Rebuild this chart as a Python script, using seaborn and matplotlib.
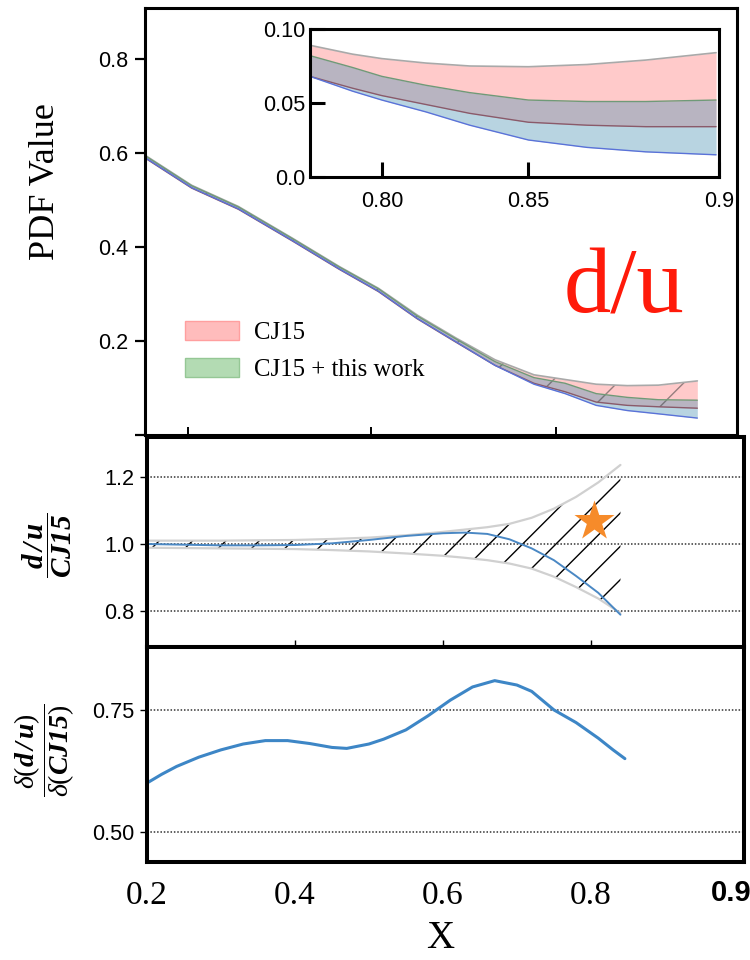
import matplotlib
matplotlib.use("Agg")
import matplotlib.pyplot as plt
import seaborn as sns
from matplotlib.patches import Patch

# ---------------- data ----------------
# top panel: d/u PDF uncertainty bands
x_top = [0.20, 0.26, 0.32, 0.39, 0.45, 0.50, 0.55, 0.60, 0.65, 0.70, 0.74, 0.78, 0.82, 0.86, 0.91]
cj15_hi = [0.595, 0.531, 0.486, 0.418, 0.358, 0.312, 0.255, 0.206, 0.160, 0.128, 0.118, 0.108, 0.105, 0.106, 0.115]
cj15_lo = [0.589, 0.525, 0.480, 0.412, 0.352, 0.305, 0.247, 0.197, 0.148, 0.110, 0.092, 0.070, 0.063, 0.060, 0.057]
work_hi = [0.594, 0.530, 0.485, 0.417, 0.357, 0.311, 0.253, 0.204, 0.156, 0.122, 0.110, 0.088, 0.080, 0.075, 0.074]
work_lo = [0.590, 0.526, 0.481, 0.413, 0.353, 0.306, 0.248, 0.198, 0.148, 0.108, 0.088, 0.063, 0.052, 0.045, 0.036]
top_xticks = [0.255, 0.491, 0.728]
top_yticks = [0.0, 0.2, 0.4, 0.6, 0.8]
top_yticklabels = ["", "0.2", "0.4", "0.6", "0.8"]
legend_labels = ["CJ15", "CJ15 + this work"]

# inset (zoom on large x)
x_in = [0.7755, 0.79, 0.80, 0.815, 0.83, 0.85, 0.87, 0.89, 0.914]
cj15_hi_in = [0.089, 0.083, 0.080, 0.077, 0.075, 0.0745, 0.076, 0.079, 0.084]
cj15_lo_in = [0.068, 0.060, 0.055, 0.049, 0.043, 0.037, 0.035, 0.034, 0.034]
work_hi_in = [0.082, 0.074, 0.068, 0.062, 0.057, 0.052, 0.051, 0.051, 0.052]
work_lo_in = [0.068, 0.058, 0.052, 0.044, 0.035, 0.025, 0.020, 0.017, 0.015]
in_xticks = [0.80, 0.85, 0.915]
in_xticklabels = ["0.80", "0.85", "0.9"]
in_yticks = [0.0, 0.05, 0.10]
in_yticklabels = ["0.0", "0.05", "0.10"]

# middle panel: ratio to CJ15
x_mid = [0.20, 0.25, 0.30, 0.35, 0.40, 0.45, 0.50, 0.55, 0.60, 0.63, 0.66, 0.69, 0.72, 0.75, 0.78, 0.81, 0.84]
ratio = [1.000, 0.998, 0.996, 0.996, 0.997, 1.002, 1.012, 1.024, 1.032, 1.034, 1.030, 1.014, 0.987, 0.952, 0.905, 0.855, 0.790]
band_hi = [1.010, 1.010, 1.010, 1.011, 1.012, 1.015, 1.019, 1.026, 1.036, 1.043, 1.050, 1.060, 1.078, 1.105, 1.140, 1.183, 1.235]
band_lo = [0.989, 0.988, 0.987, 0.986, 0.985, 0.982, 0.978, 0.972, 0.965, 0.959, 0.952, 0.942, 0.927, 0.903, 0.872, 0.838, 0.795]
star_x = [0.804]
star_y = [1.067]
mid_grid = [0.8, 1.0, 1.2]
mid_yticklabels = ["0.8", "1.0", "1.2"]
mid_xticks = [0.4, 0.6, 0.8]

# bottom panel: ratio of uncertainties
x_bot = [0.20, 0.22, 0.24, 0.27, 0.30, 0.33, 0.36, 0.39, 0.42, 0.45, 0.47, 0.50, 0.52,
         0.55, 0.58, 0.61, 0.64, 0.67, 0.70, 0.72, 0.75, 0.78, 0.81, 0.83, 0.846]
err_ratio = [0.600, 0.618, 0.634, 0.653, 0.668, 0.680, 0.687, 0.687, 0.681, 0.673, 0.671, 0.680, 0.690,
             0.709, 0.738, 0.770, 0.797, 0.810, 0.801, 0.788, 0.750, 0.724, 0.692, 0.668, 0.650]
bot_grid = [0.50, 0.75]
bot_yticklabels = ["0.50", "0.75"]
bot_xticks = [0.2, 0.4, 0.6, 0.8]
bot_xticklabels = ["0.2", "0.4", "0.6", "0.8"]

# ---------------- style ----------------
sns.set_style("ticks")
plt.rcParams["font.family"] = ["Liberation Sans", "DejaVu Sans"]
plt.rcParams["mathtext.fontset"] = "custom"
plt.rcParams["mathtext.rm"] = "Liberation Serif"
plt.rcParams["mathtext.it"] = "Liberation Serif:italic"
plt.rcParams["mathtext.bf"] = "Liberation Serif:bold:italic"
plt.rcParams["hatch.linewidth"] = 0.5
for k in ["text.color", "axes.labelcolor", "xtick.color", "ytick.color", "axes.edgecolor"]:
    plt.rcParams[k] = "black"

SERIF = ["Liberation Serif", "DejaVu Serif"]
RED = "#ff8a8a"
TEAL = "#4f95b5"

W, H = 750, 960
fig = plt.figure(figsize=(3.75, 4.8), dpi=200)


def box(l, t, r, b):
    return [l / W, 1 - b / H, (r - l) / W, (b - t) / H]


ax_top = fig.add_axes(box(145, 8, 737, 435))
ax_mid = fig.add_axes(box(147, 437, 744, 647))
ax_bot = fig.add_axes(box(147, 647, 744, 862))
ax_in = fig.add_axes(box(310, 29, 719, 177))


def draw_bands(ax, x, c_lo, c_hi, w_lo, w_hi, hatch=True):
    ax.fill_between(x, c_lo, c_hi, facecolor=RED, alpha=0.45, lw=0)
    ax.fill_between(x, w_lo, w_hi, facecolor=TEAL, alpha=0.40, lw=0)
    if hatch:
        ax.fill_between(x, c_lo, c_hi, facecolor="none",
                        edgecolor=(0.25, 0.25, 0.25, 0.55), hatch="/", lw=0)
    sns.lineplot(x=x, y=c_hi, ax=ax, color="#a9a9a9", lw=0.6)
    sns.lineplot(x=x, y=c_lo, ax=ax, color="#8a5a6a", lw=0.5)
    sns.lineplot(x=x, y=w_hi, ax=ax, color="#6f9a78", lw=0.5)
    sns.lineplot(x=x, y=w_lo, ax=ax, color="#5a72d8", lw=0.5)


# ---- top panel ----
ax = ax_top
draw_bands(ax, x_top, cj15_lo, cj15_hi, work_lo, work_hi)
ax.set_xlim(0.2, 0.961)
ax.set_ylim(0, 0.908)
ax.set_yticks(top_yticks)
ax.set_yticklabels(top_yticklabels)
ax.set_xticks(top_xticks)
ax.set_xticklabels([])
ax.tick_params(axis="y", left=True, direction="out", length=3.6, width=0.8, pad=2.5, labelsize=7.8)
ax.tick_params(axis="x", bottom=True, direction="in", length=3, width=0.7)
for s in ax.spines.values():
    s.set_linewidth(1.1)
    s.set_visible(True)
ax.set_xlabel("")
ax.set_ylabel("")
ax.text(0.809, 0.286, "d/u", transform=ax.transAxes, ha="center", va="baseline",
        fontsize=34, family=SERIF, color="#ff1a0a")
handles = [Patch(facecolor="#ffbcbc", edgecolor="#ff9f9f", lw=0.5),
           Patch(facecolor="#b3dbb3", edgecolor="#95c795", lw=0.5)]
ax.legend(handles, legend_labels, loc="upper left", bbox_to_anchor=(0.0676, 0.267),
          frameon=False, borderpad=0, borderaxespad=0, handlelength=2.2, handleheight=0.8,
          handletextpad=0.6, labelspacing=0.55, prop={"family": SERIF, "size": 8.9})

# ---- inset ----
ax = ax_in
ax.set_facecolor("white")
draw_bands(ax, x_in, cj15_lo_in, cj15_hi_in, work_lo_in, work_hi_in, hatch=False)
ax.set_xlim(0.7755, 0.915)
ax.set_ylim(0, 0.097)
ax.set_xticks(in_xticks)
ax.set_xticklabels(in_xticklabels)
ax.set_yticks(in_yticks)
ax.set_yticklabels(in_yticklabels)
ax.tick_params(axis="y", left=True, direction="in", length=5.4, width=1.1, pad=1.8, labelsize=7.8)
ax.tick_params(axis="x", bottom=True, direction="in", length=5.4, width=1.1, pad=5, labelsize=7.8)
for s in ax.spines.values():
    s.set_linewidth(1.1)
    s.set_visible(True)
ax.set_xlabel("")
ax.set_ylabel("")

# ---- middle panel ----
ax = ax_mid
for yv in mid_grid:
    ax.axhline(yv, color="#333333", ls=(0, (1, 1.2)), lw=0.55)
ax.fill_between(x_mid, band_lo, band_hi, facecolor="none", edgecolor="black", hatch="//", lw=0)
sns.lineplot(x=x_mid, y=band_hi, ax=ax, color="#d0d0d0", lw=0.8)
sns.lineplot(x=x_mid, y=band_lo, ax=ax, color="#d0d0d0", lw=0.8)
sns.lineplot(x=x_mid, y=ratio, ax=ax, color="#4a88c4", lw=0.7)
sns.scatterplot(x=star_x, y=star_y, ax=ax, marker="*", s=230, color="#f68b2a", linewidth=0, zorder=5)
ax.set_xlim(0.2, 1.007)
ax.set_ylim(0.694, 1.318)
ax.set_yticks(mid_grid)
ax.set_yticklabels(mid_yticklabels)
ax.set_xticks(mid_xticks)
ax.set_xticklabels([])
ax.tick_params(axis="y", left=True, direction="out", length=2.5, width=0.5, pad=2, labelsize=7.8)
ax.tick_params(axis="x", bottom=True, direction="in", length=2.5, width=0.5)
for s in ax.spines.values():
    s.set_linewidth(1.45)
    s.set_visible(True)
ax.set_xlabel("")
ax.set_ylabel("")

# ---- bottom panel ----
ax = ax_bot
for yv in bot_grid:
    ax.axhline(yv, color="#333333", ls=(0, (1, 1.2)), lw=0.55)
sns.lineplot(x=x_bot, y=err_ratio, ax=ax, color="#3d86c6", lw=1.1)
ax.set_xlim(0.2, 1.007)
ax.set_ylim(0.438, 0.879)
ax.set_yticks(bot_grid)
ax.set_yticklabels(bot_yticklabels)
ax.set_xticks(bot_xticks)
ax.set_xticklabels(bot_xticklabels)
ax.tick_params(axis="y", left=True, direction="out", length=2.5, width=0.5, pad=2, labelsize=7.8)
ax.tick_params(axis="x", bottom=True, length=0, pad=6.5, labelsize=12)
for lab in ax.get_xticklabels():
    lab.set_fontfamily(SERIF)
for s in ax.spines.values():
    s.set_linewidth(1.45)
    s.set_visible(True)
ax.set_xlabel("")
ax.set_ylabel("")

# ---- figure-level labels ----
fig.text(46 / W, 1 - 182 / H, "PDF Value", rotation=90, ha="center", va="center",
         fontsize=13, family=SERIF)
fig.text(47 / W, 1 - 545 / H, r"$\dfrac{\mathbf{d\,/\,u}}{\mathbf{CJ15}}$", rotation=90,
         ha="center", va="center", fontsize=10.5)
fig.text(45 / W, 1 - 750 / H, r"$\dfrac{\delta(\mathbf{d\,/\,u})}{\delta(\mathbf{CJ15})}$", rotation=90,
         ha="center", va="center", fontsize=10)
fig.text(731 / W, 1 - 893 / H, "0.9", ha="center", va="center", fontsize=10.5,
         fontweight="bold", family=["Liberation Sans", "DejaVu Sans"])
fig.text(440 / W, 12 / H, "X", ha="center", va="baseline", fontsize=14, family=SERIF)

fig.savefig("out.png", dpi=200)
